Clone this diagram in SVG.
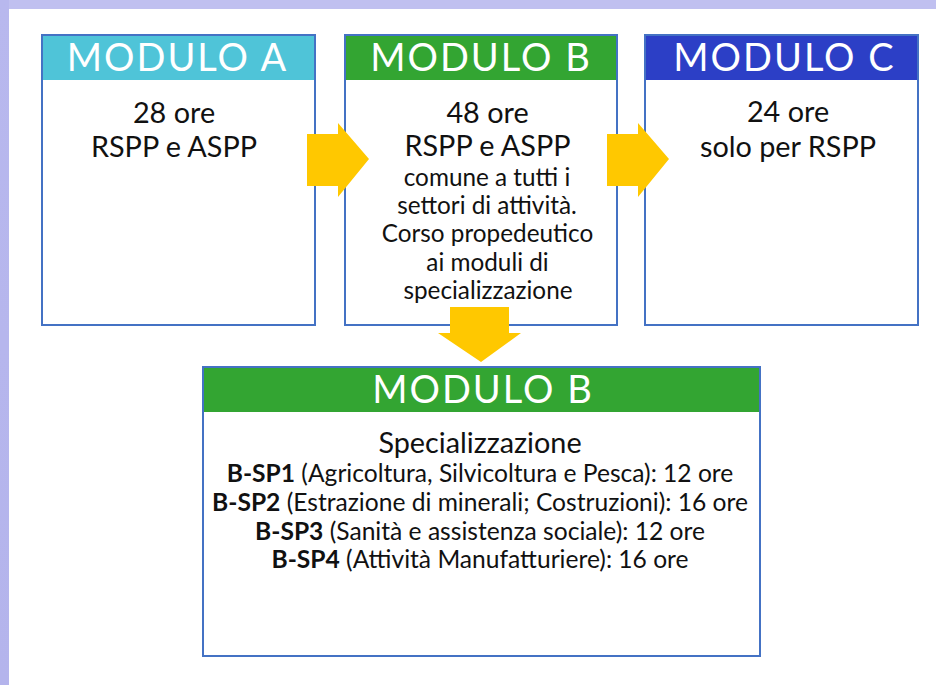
<svg xmlns="http://www.w3.org/2000/svg" width="936" height="685" viewBox="0 0 936 685">
<defs>
<linearGradient id="bgL" x1="0" y1="0" x2="0" y2="1">
<stop offset="0" stop-color="#b8b8ee"/>
<stop offset="1" stop-color="#b4b4ec"/>
</linearGradient>
<style>
.box{fill:#ffffff;stroke:#4472c4;stroke-width:2}
.hdr{font-family:Lato,"Open Sans",sans-serif;font-size:38px;letter-spacing:2px;fill:#ffffff;text-anchor:middle}
.big{font-family:Lato,"Open Sans",sans-serif;font-size:28.8px;fill:#111111;text-anchor:middle}
.sm{font-family:Lato,"Open Sans",sans-serif;font-size:24.3px;fill:#111111;text-anchor:middle}
.sp{font-family:Lato,"Open Sans",sans-serif;font-size:24.6px;fill:#111111;text-anchor:middle}
.arrow{fill:#ffc800}
.b{font-weight:bold}
</style>
</defs>
<rect x="0" y="0" width="936" height="685" fill="#ffffff"/>
<rect x="0" y="0" width="936" height="9" fill="#c0c0f0"/>
<rect x="0" y="0" width="9" height="685" fill="url(#bgL)"/>

<g id="moduloA">
<rect class="box" x="42" y="35" width="273" height="290"/>
<rect x="43" y="36" width="271" height="44" fill="#4fc4d8"/>
<text class="hdr" x="177.5" y="71">MODULO A</text>
<text class="big" x="174" y="123">28 ore</text>
<text class="big" x="174" y="157">RSPP e ASPP</text>
</g>

<g id="moduloB">
<rect class="box" x="345" y="35" width="272" height="290"/>
<rect x="346" y="36" width="270" height="44" fill="#33a532"/>
<text class="hdr" x="481" y="71">MODULO B</text>
<text class="big" x="487.5" y="123">48 ore</text>
<text class="big" x="487.5" y="156">RSPP e ASPP</text>
<text class="sm" x="487" y="186">comune a tutti i</text>
<text class="sm" x="487" y="214">settori di attività.</text>
<text class="sm" x="487.5" y="242">Corso propedeutico</text>
<text class="sm" x="487.5" y="271">ai moduli di</text>
<text class="sm" x="488" y="299">specializzazione</text>
</g>

<g id="moduloC">
<rect class="box" x="645" y="35" width="273" height="290"/>
<rect x="646" y="36" width="271" height="44" fill="#2c3fc6"/>
<text class="hdr" x="784.5" y="71">MODULO C</text>
<text class="big" x="788" y="122">24 ore</text>
<text class="big" x="788" y="157">solo per RSPP</text>
</g>

<g id="moduloBspec">
<rect class="box" x="203" y="367" width="557" height="289"/>
<rect x="204" y="368" width="555" height="44" fill="#33a532"/>
<text class="hdr" x="483" y="403">MODULO B</text>
<text class="big" x="480" y="453">Specializzazione</text>
<text class="sp" x="480" y="482"><tspan class="b">B-SP1</tspan> (Agricoltura, Silvicoltura e Pesca): 12 ore</text>
<text class="sp" x="480" y="511"><tspan class="b">B-SP2</tspan> (Estrazione di minerali; Costruzioni): 16 ore</text>
<text class="sp" x="480" y="540"><tspan class="b">B-SP3</tspan> (Sanità e assistenza sociale): 12 ore</text>
<text class="sp" x="480" y="568"><tspan class="b">B-SP4</tspan> (Attività Manufatturiere): 16 ore</text>
</g>

<g id="connectors">
<polygon class="arrow" points="307,134 338,134 338,123 369,159 338,197 338,186 307,186"/>
<polygon class="arrow" points="607,134 638,134 638,123 669,159 638,197 638,186 607,186"/>
<polygon class="arrow" points="450,307 509,307 509,333 521,333 481,362 438,333 450,333"/>
</g>
</svg>
